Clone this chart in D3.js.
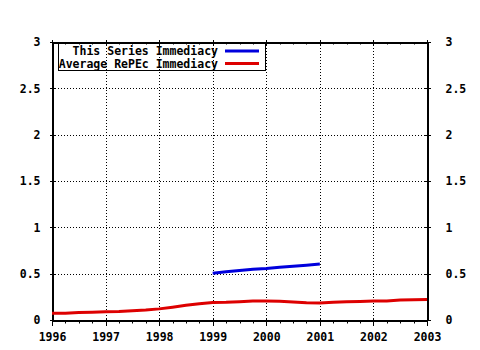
<!DOCTYPE html>
<html lang="en">
<head>
<meta charset="UTF-8">
<title>Immediacy</title>
<style>
  body { margin: 0; background: #fff; }
  text { font-family: "DejaVu Sans Mono", monospace; font-weight: bold; font-size: 11.5px; fill: #000; }
  .grid line { stroke: #000; stroke-dasharray: 1,2; shape-rendering: crispEdges; }
  .frame { fill: none; stroke: #000; shape-rendering: crispEdges; }
</style>
</head>
<body>
<svg width="480" height="350"></svg>
<script src="https://d3js.org/d3.v7.min.js"></script>
<script>
// quarterly points
const avgYears = [1996, 1996.25, 1996.5, 1996.75, 1997, 1997.25, 1997.5, 1997.75,
  1998, 1998.25, 1998.5, 1998.75, 1999, 1999.25, 1999.5, 1999.75,
  2000, 2000.25, 2000.5, 2000.75, 2001, 2001.25, 2001.5, 2001.75,
  2002, 2002.25, 2002.5, 2002.75, 2003];
const avgValues = [0.072, 0.074, 0.080, 0.083, 0.088, 0.092, 0.100, 0.108,
  0.120, 0.138, 0.158, 0.176, 0.190, 0.192, 0.198, 0.205,
  0.205, 0.203, 0.195, 0.185, 0.183, 0.192, 0.197, 0.200,
  0.205, 0.205, 0.215, 0.218, 0.220];
const seriesYears = [1999, 1999.25, 1999.5, 1999.75, 2000, 2000.25, 2000.5, 2000.75, 2001];
const seriesValues = [0.505, 0.520, 0.535, 0.548, 0.556, 0.568, 0.580, 0.592, 0.604];
const xTicks = [1996, 1997, 1998, 1999, 2000, 2001, 2002, 2003];
const yTicks = [0, 0.5, 1, 1.5, 2, 2.5, 3];
const legendLabels = ["This Series Immediacy", "Average RePEc Immediacy"];
const colors = ["#0000dd", "#dd0000"];

const svg = d3.select('svg');
const plot = { left: 52, right: 427, top: 42, bottom: 320 };

const x = d3.scaleLinear().domain([1996, 2003]).range([plot.left, plot.right]);
const y = d3.scaleLinear().domain([0, 3]).range([plot.bottom, plot.top]);

// grid
const grid = svg.append('g').attr('class', 'grid');
grid.selectAll('.vx').data(xTicks.slice(1, -1)).enter().append('line')
    .attr('x1', d => Math.round(x(d)) + 0.5).attr('x2', d => Math.round(x(d)) + 0.5)
    .attr('y1', plot.top).attr('y2', plot.bottom);
grid.selectAll('.hy').data(yTicks.slice(1, -1)).enter().append('line')
    .attr('y1', d => Math.round(y(d)) + 0.5).attr('y2', d => Math.round(y(d)) + 0.5)
    .attr('x1', plot.left).attr('x2', plot.right);

// frame
svg.append('rect').attr('class', 'frame')
    .attr('x', plot.left + 0.5).attr('y', plot.top + 0.5)
    .attr('width', plot.right - plot.left).attr('height', plot.bottom - plot.top);

// axes
const minor = d3.range(1996, 2003.01, 0.25).filter(d => d % 1 !== 0);

const xb = svg.append('g').attr('transform', `translate(0,${plot.bottom + 0.5})`)
    .call(d3.axisBottom(x).tickValues(xTicks).tickFormat(d3.format('d')).tickSizeInner(5).tickSizeOuter(0).tickPadding(7));
xb.selectAll('.tick line').attr('y1', -3);
xb.append('g').selectAll('line').data(minor).enter().append('line')
    .attr('x1', d => Math.round(x(d)) + 0.5).attr('x2', d => Math.round(x(d)) + 0.5)
    .attr('y1', 0).attr('y2', 3).attr('stroke', '#000');

const xt = svg.append('g').attr('transform', `translate(0,${plot.top + 0.5})`)
    .call(d3.axisTop(x).tickValues(xTicks).tickFormat('').tickSizeInner(3).tickSizeOuter(0));
xt.selectAll('.tick line').attr('y1', 3);
xt.append('g').selectAll('line').data(minor).enter().append('line')
    .attr('x1', d => Math.round(x(d)) + 0.5).attr('x2', d => Math.round(x(d)) + 0.5)
    .attr('y1', 0).attr('y2', 2).attr('stroke', '#000');

const yl = svg.append('g').attr('transform', `translate(${plot.left + 0.5},0)`)
    .call(d3.axisLeft(y).tickValues(yTicks).tickFormat(d3.format('')).tickSizeInner(3).tickSizeOuter(0).tickPadding(9));
yl.selectAll('.tick line').attr('x1', 3);

const yr = svg.append('g').attr('transform', `translate(${plot.right + 0.5},0)`)
    .call(d3.axisRight(y).tickValues(yTicks).tickFormat(d3.format('')).tickSizeInner(3).tickSizeOuter(0).tickPadding(15));
yr.selectAll('.tick line').attr('x1', -3);

svg.selectAll('.domain').attr('stroke', '#000').attr('shape-rendering', 'crispEdges');
svg.selectAll('.tick line').attr('stroke', '#000').attr('shape-rendering', 'crispEdges');
svg.selectAll('.tick text').attr('fill', '#000').attr('font-size', null).attr('font-family', null);

// lines
const line = d3.line().x(d => x(d[0])).y(d => y(d[1]));
svg.append('path').datum(avgYears.map((d, i) => [d, avgValues[i]]))
    .attr('d', line).attr('fill', 'none').attr('stroke', colors[1]).attr('stroke-width', 3);
svg.append('path').datum(seriesYears.map((d, i) => [d, seriesValues[i]]))
    .attr('d', line).attr('fill', 'none').attr('stroke', colors[0]).attr('stroke-width', 3);

// legend
const lg = svg.append('g');
lg.append('rect').attr('class', 'frame')
    .attr('x', 58.5).attr('y', 43.5).attr('width', 207).attr('height', 27);
legendLabels.forEach((lab, i) => {
    const yy = 51 + i * 12.5;
    lg.append('text').attr('x', 218).attr('y', yy + 4).attr('text-anchor', 'end').text(lab);
    lg.append('line').attr('x1', 225).attr('x2', 259).attr('y1', yy).attr('y2', yy)
        .attr('stroke', colors[i]).attr('stroke-width', 3);
});
</script>
</body>
</html>
